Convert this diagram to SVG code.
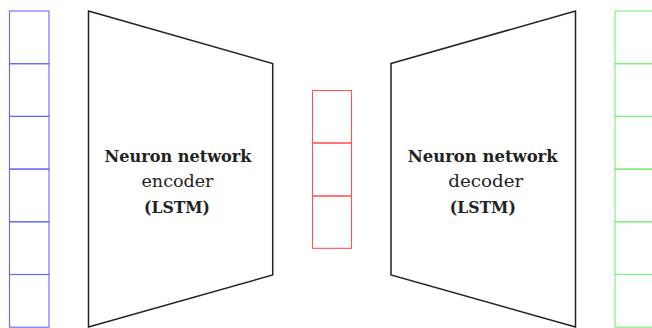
<svg xmlns="http://www.w3.org/2000/svg" width="652" height="328" viewBox="0 0 652 328">
<style>
.cell{fill:none;stroke-width:1.1}
.b{stroke:#6666ff}
.r{stroke:#ff5555}
.g{stroke:#77ee77}
.trap{fill:none;stroke:#222;stroke-width:1.5;stroke-linejoin:miter}
text{font-family:"DejaVu Serif","Liberation Serif",serif;font-size:17px;fill:#222;text-anchor:middle}
.bold{font-weight:bold}
</style>
<rect width="652" height="328" fill="#fff"/>
<g id="input">
<rect class="cell b" x="9.5" y="11" width="39.5" height="52.7"/>
<rect class="cell b" x="9.5" y="63.7" width="39.5" height="52.7"/>
<rect class="cell b" x="9.5" y="116.4" width="39.5" height="52.7"/>
<rect class="cell b" x="9.5" y="169.1" width="39.5" height="52.7"/>
<rect class="cell b" x="9.5" y="221.8" width="39.5" height="52.7"/>
<rect class="cell b" x="9.5" y="274.5" width="39.5" height="52.7"/>
</g>
<g id="encoder">
<polygon class="trap" points="88.5,11 272.7,63.5 272.7,275 88.5,327"/>
<text class="bold" x="178" y="162" textLength="147" lengthAdjust="spacingAndGlyphs">Neuron network</text>
<text x="177.5" y="187" textLength="72" lengthAdjust="spacingAndGlyphs">encoder</text>
<text class="bold" x="177" y="212.5" textLength="66" lengthAdjust="spacingAndGlyphs">(LSTM)</text>
</g>
<g id="latent">
<rect class="cell r" x="312.5" y="90.5" width="39" height="52.5"/>
<rect class="cell r" x="312.5" y="143" width="39" height="53"/>
<rect class="cell r" x="312.5" y="196" width="39" height="52.3"/>
</g>
<g id="decoder">
<polygon class="trap" points="391,63.5 575.5,11 575.5,327 391,275"/>
<text class="bold" x="482.7" y="162" textLength="150" lengthAdjust="spacingAndGlyphs">Neuron network</text>
<text x="485.8" y="187" textLength="75" lengthAdjust="spacingAndGlyphs">decoder</text>
<text class="bold" x="482.8" y="212.5" textLength="66" lengthAdjust="spacingAndGlyphs">(LSTM)</text>
</g>
<g id="output">
<rect class="cell g" x="615" y="11" width="45" height="52.7"/>
<rect class="cell g" x="615" y="63.7" width="45" height="52.7"/>
<rect class="cell g" x="615" y="116.4" width="45" height="52.7"/>
<rect class="cell g" x="615" y="169.1" width="45" height="52.7"/>
<rect class="cell g" x="615" y="221.8" width="45" height="52.7"/>
<rect class="cell g" x="615" y="274.5" width="45" height="52.7"/>
</g>
<g id="connectors"/>
</svg>
